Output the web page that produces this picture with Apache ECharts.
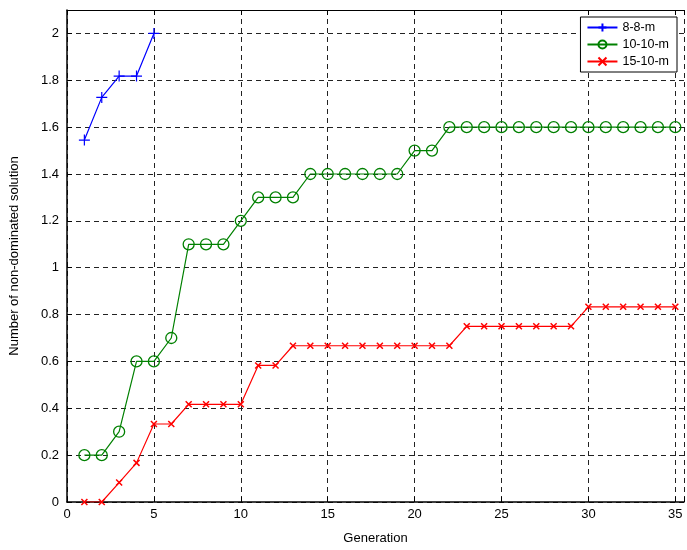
<!DOCTYPE html>
<html><head><meta charset="utf-8">
<script src="https://cdn.jsdelivr.net/npm/echarts@6/dist/echarts.min.js"></script>
<style>html,body{margin:0;padding:0;background:#fff;overflow:hidden}#c{width:687px;height:550px}</style>
</head><body><div id="c"></div>
<script>
const gen8 = [1, 2, 3, 4, 5];
const vals8 = [1.545, 1.727, 1.818, 1.818, 2.0];
const gen = [1,2,3,4,5,6,7,8,9,10,11,12,13,14,15,16,17,18,19,20,21,22,23,24,25,26,27,28,29,30,31,32,33,34,35];
const vals10 = [0.2,0.2,0.3,0.6,0.6,0.7,1.1,1.1,1.1,1.2,1.3,1.3,1.3,1.4,1.4,1.4,1.4,1.4,1.4,1.5,1.5,1.6,1.6,1.6,1.6,1.6,1.6,1.6,1.6,1.6,1.6,1.6,1.6,1.6,1.6];
const vals15 = [0,0,0.083,0.167,0.333,0.333,0.417,0.417,0.417,0.417,0.583,0.583,0.667,0.667,0.667,0.667,0.667,0.667,0.667,0.667,0.667,0.667,0.75,0.75,0.75,0.75,0.75,0.75,0.75,0.833,0.833,0.833,0.833,0.833,0.833];
const names = ['8-8-m', '10-10-m', '15-10-m'];
const xTicks = [0, 5, 10, 15, 20, 25, 30, 35];
const yTicks = [0, 0.2, 0.4, 0.6, 0.8, 1, 1.2, 1.4, 1.6, 1.8, 2];

const zip = (a, b) => a.map((v, i) => [v, b[i]]);
const font = 'Liberation Sans, Arial, sans-serif';
const chart = echarts.init(document.getElementById('c'));
chart.setOption({
  animation: false,
  backgroundColor: '#fff',
  grid: { left: 67, top: 10, right: 0, bottom: 46 },
  legend: {
    orient: 'vertical', right: 10, top: 17,
    backgroundColor: '#fff', borderColor: '#000', borderWidth: 1, borderRadius: 0,
    padding: [4, 8, 4, 6], itemGap: 4, itemWidth: 30, itemHeight: 10,
    textStyle: { fontFamily: font, fontSize: 12.5, color: '#000' },
    data: names
  },
  xAxis: [{
    type: 'value', min: 0, max: 35.5, interval: 5,
    name: 'Generation', nameLocation: 'middle', nameGap: 30,
    nameTextStyle: { fontFamily: font, fontSize: 13, color: '#000' },
    axisLine: { show: true, lineStyle: { color: '#000', width: 1.5 } },
    axisTick: { show: true, inside: true, length: 5, lineStyle: { color: '#000' } },
    axisLabel: { fontFamily: font, fontSize: 13, color: '#000', margin: 6,
      formatter: v => xTicks.includes(v) ? String(v) : '' },
    splitLine: { show: true, lineStyle: { color: '#222', type: [5, 4], width: 1 } }
  }, {
    type: 'value', min: 0, max: 35.5, interval: 5, position: 'top',
    axisLine: { show: true, onZero: false, lineStyle: { color: '#000', width: 1 } },
    axisTick: { show: true, inside: true, length: 5, lineStyle: { color: '#000' } },
    axisLabel: { show: false }, splitLine: { show: false }
  }],
  yAxis: {
    type: 'value', min: 0, max: 2.1, interval: 0.2,
    name: 'Number of non-dominated solution', nameLocation: 'middle', nameGap: 46,
    nameTextStyle: { fontFamily: font, fontSize: 13, color: '#000' },
    axisLine: { show: true, lineStyle: { color: '#000', width: 1.5 } },
    axisTick: { show: true, inside: true, length: 5, lineStyle: { color: '#000' } },
    axisLabel: { fontFamily: font, fontSize: 13, color: '#000', margin: 8,
      formatter: v => { const r = Math.round(v * 10) / 10; return yTicks.includes(r) && Math.abs(v - r) < 1e-6 ? String(r) : ''; } },
    splitLine: { show: true, lineStyle: { color: '#222', type: [5, 4], width: 1 } }
  },
  series: [{
    name: names[0], type: 'line', data: zip(gen8, vals8),
    symbol: 'path://M5,0L5,10M0,5L10,5', symbolSize: 11, symbolKeepAspect: true,
    lineStyle: { color: '#0000ff', width: 1.2 },
    itemStyle: { color: 'none', borderColor: '#0000ff', borderWidth: 1.2 }
  }, {
    name: names[1], type: 'line', data: zip(gen, vals10),
    symbol: 'path://M10,5A5,5,0,1,1,0,5A5,5,0,1,1,10,5Z', symbolSize: 11, symbolKeepAspect: true, showAllSymbol: true,
    lineStyle: { color: '#008000', width: 1.2 },
    itemStyle: { color: 'none', borderColor: '#008000', borderWidth: 1.3 }
  }, {
    name: names[2], type: 'line', data: zip(gen, vals15),
    symbol: 'path://M0,0L10,10M0,10L10,0', symbolSize: 6, symbolKeepAspect: true, showAllSymbol: true,
    lineStyle: { color: '#ff0000', width: 1.2 },
    itemStyle: { color: 'none', borderColor: '#ff0000', borderWidth: 1.5 }
  }]
});
</script></body></html>
